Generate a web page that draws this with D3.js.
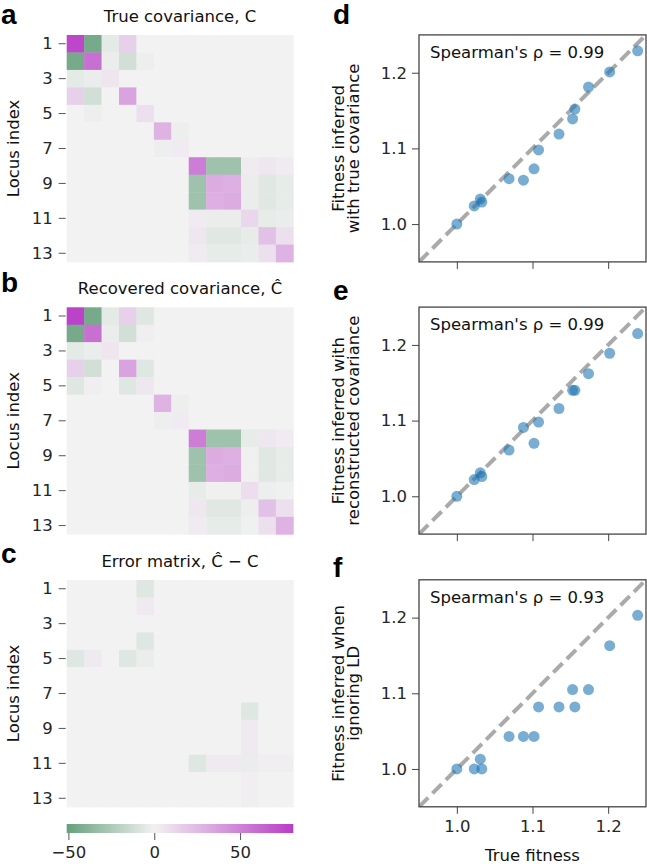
<!DOCTYPE html>
<html><head><meta charset="utf-8">
<script src="https://cdn.jsdelivr.net/npm/d3@7/dist/d3.min.js"></script>
<style>body{margin:0;background:#fff} svg{display:block}</style>
</head><body>
<svg id="fig" width="647" height="864"></svg>
<script>
// ---------------- data ----------------
const loci = d3.range(1, 14);
const tickLoci = [1, 3, 5, 7, 9, 11, 13];

const trueCov = [
  [76,-45,-5,15,0,0,0,0,0,0,0,0,0],
  [-45,58,-3,-12,-2,0,0,0,0,0,0,0,0],
  [-5,-3,6,0,0,0,0,0,0,0,0,0,0],
  [15,-12,0,35,0,0,0,0,0,0,0,0,0],
  [0,-2,0,0,8,0,0,0,0,0,0,0,0],
  [0,0,0,0,0,28,-2,0,0,0,0,0,0],
  [0,0,0,0,0,-2,3,0,0,0,0,0,0],
  [0,0,0,0,0,0,0,52,-30,-30,3,5,3],
  [0,0,0,0,0,0,0,-30,31,30,-3,-6,-4],
  [0,0,0,0,0,0,0,-30,30,31,-3,-6,-4],
  [0,0,0,0,0,0,0,3,-3,-3,12,-4,-3],
  [0,0,0,0,0,0,0,5,-6,-6,-4,22,8],
  [0,0,0,0,0,0,0,3,-4,-4,-3,8,28]
];
const recoveredCov = [
  [78,-45,-5,15,-7,0,0,0,0,0,0,0,0],
  [-45,58,-3,-12,2,0,0,0,0,0,0,0,0],
  [-5,-3,6,0,0,0,0,0,0,0,0,0,0],
  [15,-12,0,35,-7,0,0,0,0,0,0,0,0],
  [-7,2,0,-7,5,0,0,0,0,0,0,0,0],
  [0,0,0,0,0,28,-2,0,0,0,0,0,0],
  [0,0,0,0,0,-2,3,0,0,0,0,0,0],
  [0,0,0,0,0,0,0,52,-30,-30,-4,5,3],
  [0,0,0,0,0,0,0,-30,31,30,1,-6,-4],
  [0,0,0,0,0,0,0,-30,30,31,1,-6,-4],
  [0,0,0,0,0,0,0,-4,1,1,9,-2,-1],
  [0,0,0,0,0,0,0,5,-6,-6,-2,22,8],
  [0,0,0,0,0,0,0,3,-4,-4,-1,8,28]
];
const errorMat = [
  [0,0,0,0,-7,0,0,0,0,0,0,0,0],
  [0,0,0,0,4,0,0,0,0,0,0,0,0],
  [0,0,0,0,0,0,0,0,0,0,0,0,0],
  [0,0,0,0,-7,0,0,0,0,0,0,0,0],
  [-7,4,0,-7,-3,0,0,0,0,0,0,0,0],
  [0,0,0,0,0,0,0,0,0,0,0,0,0],
  [0,0,0,0,0,0,0,0,0,0,0,0,0],
  [0,0,0,0,0,0,0,0,0,0,-7,0,0],
  [0,0,0,0,0,0,0,0,0,0,4,0,0],
  [0,0,0,0,0,0,0,0,0,0,4,0,0],
  [0,0,0,0,0,0,0,-7,4,4,-3,2,2],
  [0,0,0,0,0,0,0,0,0,0,2,0,0],
  [0,0,0,0,0,0,0,0,0,0,2,0,0]
];

const trueFitness   = [1.000,1.023,1.031,1.033,1.069,1.088,1.102,1.108,1.135,1.153,1.156,1.174,1.202,1.239];
const inferredTrue  = [1.000,1.024,1.033,1.029,1.060,1.058,1.073,1.098,1.119,1.139,1.152,1.181,1.201,1.229];
const inferredRecon = [1.000,1.022,1.031,1.026,1.061,1.091,1.070,1.098,1.116,1.140,1.140,1.162,1.189,1.215];
const inferredNoLD  = [1.000,1.000,1.013,1.000,1.043,1.043,1.043,1.082,1.082,1.105,1.082,1.105,1.163,1.203];

const fitTicks = [1.0, 1.1, 1.2];
const cbarTicks = [-50, 0, 50];
const cbarDomain = [-51, 81];
const spearmanVals = ["0.99", "0.99", "0.93"];

// ---------------- drawing ----------------
const svg = d3.select("#fig");
const FONT = "DejaVu Sans, sans-serif";
const TXT = "#262626";
const color = d3.scaleLinear().domain([-51, 0, 81])
  .range(["#65a07c", "#f2f2f2", "#b83cc6"]).clamp(true);

const hmX0 = 66.7, hmX1 = 293.3;
const tops = [35, 307.3, 580];
const SZ = 227;

function heatmap(mat, top, title, letter, letterY) {
  const x = d3.scaleBand().domain(loci).range([hmX0, hmX1]);
  const y = d3.scaleBand().domain(loci).range([top, top + SZ]);
  const g = svg.append("g");
  const cells = [];
  mat.forEach((row, i) => row.forEach((v, j) => cells.push({r: loci[i], c: loci[j], v})));
  g.selectAll("rect").data(cells).join("rect")
    .attr("x", d => x(d.c)).attr("y", d => y(d.r))
    .attr("width", x.bandwidth() + 0.4).attr("height", y.bandwidth() + 0.4)
    .attr("fill", d => color(d.v));
  const ax = svg.append("g").attr("transform", `translate(${hmX0 - 1},0)`)
    .call(d3.axisLeft(y).tickValues(tickLoci).tickSize(7).tickPadding(6));
  ax.select(".domain").remove();
  ax.selectAll("line").attr("stroke", "#555").attr("stroke-width", 1);
  ax.selectAll("text").attr("font-family", FONT).attr("font-size", 16.5).attr("fill", TXT);
  svg.append("text").attr("x", (hmX0 + hmX1) / 2).attr("y", top - 13)
    .attr("text-anchor", "middle").attr("font-family", FONT).attr("font-size", 16.5)
    .attr("fill", "#111").text(title);
  svg.append("text").attr("transform", `translate(19,${top + SZ / 2}) rotate(-90)`)
    .attr("text-anchor", "middle").attr("font-family", FONT).attr("font-size", 16.5)
    .attr("fill", "#111").text("Locus index");
  svg.append("text").attr("x", 1).attr("y", letterY)
    .attr("font-family", "Liberation Sans, Arial, sans-serif").attr("font-weight", "bold")
    .attr("font-size", 28).attr("fill", "#000").text(letter);
}

heatmap(trueCov, tops[0], "True covariance, C", "a", 24);
heatmap(recoveredCov, tops[1], "Recovered covariance, \u0108", "b", 292);
heatmap(errorMat, tops[2], "Error matrix, \u0108 \u2212 C", "c", 563);

// colorbar
const cbX = d3.scaleLinear().domain(cbarDomain).range([hmX0, hmX1]);
const defs = svg.append("defs");
const grad = defs.append("linearGradient").attr("id", "cbgrad");
d3.range(0, 1.0001, 0.02).forEach(t => {
  grad.append("stop").attr("offset", t).attr("stop-color", color(cbarDomain[0] + t * (cbarDomain[1] - cbarDomain[0])));
});
const cbY = 824, cbH = 9;
svg.append("rect").attr("x", hmX0).attr("y", cbY).attr("width", hmX1 - hmX0).attr("height", cbH)
  .attr("fill", "url(#cbgrad)");
const cbAx = svg.append("g").attr("transform", `translate(0,${cbY + cbH})`)
  .call(d3.axisBottom(cbX).tickValues(cbarTicks).tickSize(7).tickPadding(6)
    .tickFormat(d => d < 0 ? "\u2212" + Math.abs(d) : d));
cbAx.select(".domain").remove();
cbAx.selectAll("line").attr("stroke", "#555");
cbAx.selectAll("text").attr("font-family", FONT).attr("font-size", 16.5).attr("fill", TXT);

// scatter panels
const scX0 = 419, scX1 = 646;
const panels = [
  {top: 34.9, ys: inferredTrue, lab: ["Fitness inferred", "with true covariance"], letter: "d", ly: 24, xlabels: false},
  {top: 307.1, ys: inferredRecon, lab: ["Fitness inferred with", "reconstructed covariance"], letter: "e", ly: 300, xlabels: false},
  {top: 579.8, ys: inferredNoLD, lab: ["Fitness inferred when", "ignoring LD"], letter: "f", ly: 577, xlabels: true}
];
panels.forEach((p, k) => {
  const x = d3.scaleLinear().domain([0.95, 1.25]).range([scX0, scX1]);
  const y = d3.scaleLinear().domain([0.95, 1.25]).range([p.top + SZ, p.top]);
  const g = svg.append("g");
  const clipId = "clip" + k;
  defs.append("clipPath").attr("id", clipId).append("rect")
    .attr("x", scX0).attr("y", p.top).attr("width", scX1 - scX0).attr("height", SZ);
  g.append("line").attr("clip-path", `url(#${clipId})`)
    .attr("x1", x(0.95)).attr("y1", y(0.95)).attr("x2", x(1.25)).attr("y2", y(1.25))
    .attr("stroke", "#aaaaaa").attr("stroke-width", 4).attr("stroke-dasharray", "13,6");
  g.selectAll("circle").data(trueFitness.map((t, i) => [t, p.ys[i]])).join("circle")
    .attr("cx", d => x(d[0])).attr("cy", d => y(d[1])).attr("r", 5.5)
    .attr("fill", "#1f77b4").attr("fill-opacity", 0.6);
  g.append("rect").attr("x", scX0).attr("y", p.top).attr("width", scX1 - scX0).attr("height", SZ)
    .attr("fill", "none").attr("stroke", "#444").attr("stroke-width", 1.3);
  const ya = svg.append("g").attr("transform", `translate(${scX0},0)`)
    .call(d3.axisLeft(y).tickValues(fitTicks).tickSize(7).tickPadding(5).tickFormat(d3.format(".1f")));
  ya.select(".domain").remove();
  ya.selectAll("line").attr("stroke", "#444");
  ya.selectAll("text").attr("font-family", FONT).attr("font-size", 16.5).attr("fill", TXT);
  const xa = svg.append("g").attr("transform", `translate(0,${p.top + SZ})`)
    .call(d3.axisBottom(x).tickValues(fitTicks).tickSize(7).tickPadding(6)
      .tickFormat(p.xlabels ? d3.format(".1f") : () => ""));
  xa.select(".domain").remove();
  xa.selectAll("line").attr("stroke", "#444");
  xa.selectAll("text").attr("font-family", FONT).attr("font-size", 16.5).attr("fill", TXT);
  svg.append("text").attr("x", 430).attr("y", p.top + 23)
    .attr("font-family", FONT).attr("font-size", 16.5).attr("fill", "#111")
    .text("Spearman's \u03c1 = " + spearmanVals[k]);
  const cy = p.top + SZ / 2;
  p.lab.forEach((t, li) => {
    svg.append("text").attr("transform", `translate(${344 + li * 15},${cy}) rotate(-90)`)
      .attr("text-anchor", "middle").attr("font-family", FONT).attr("font-size", 16.5)
      .attr("fill", "#111").text(t);
  });
  svg.append("text").attr("x", 333).attr("y", p.ly)
    .attr("font-family", "Liberation Sans, Arial, sans-serif").attr("font-weight", "bold")
    .attr("font-size", 28).attr("fill", "#000").text(p.letter);
});
svg.append("text").attr("x", (scX0 + scX1) / 2).attr("y", 861)
  .attr("text-anchor", "middle").attr("font-family", FONT).attr("font-size", 16.5)
  .attr("fill", "#111").text("True fitness");
</script>
</body></html>
